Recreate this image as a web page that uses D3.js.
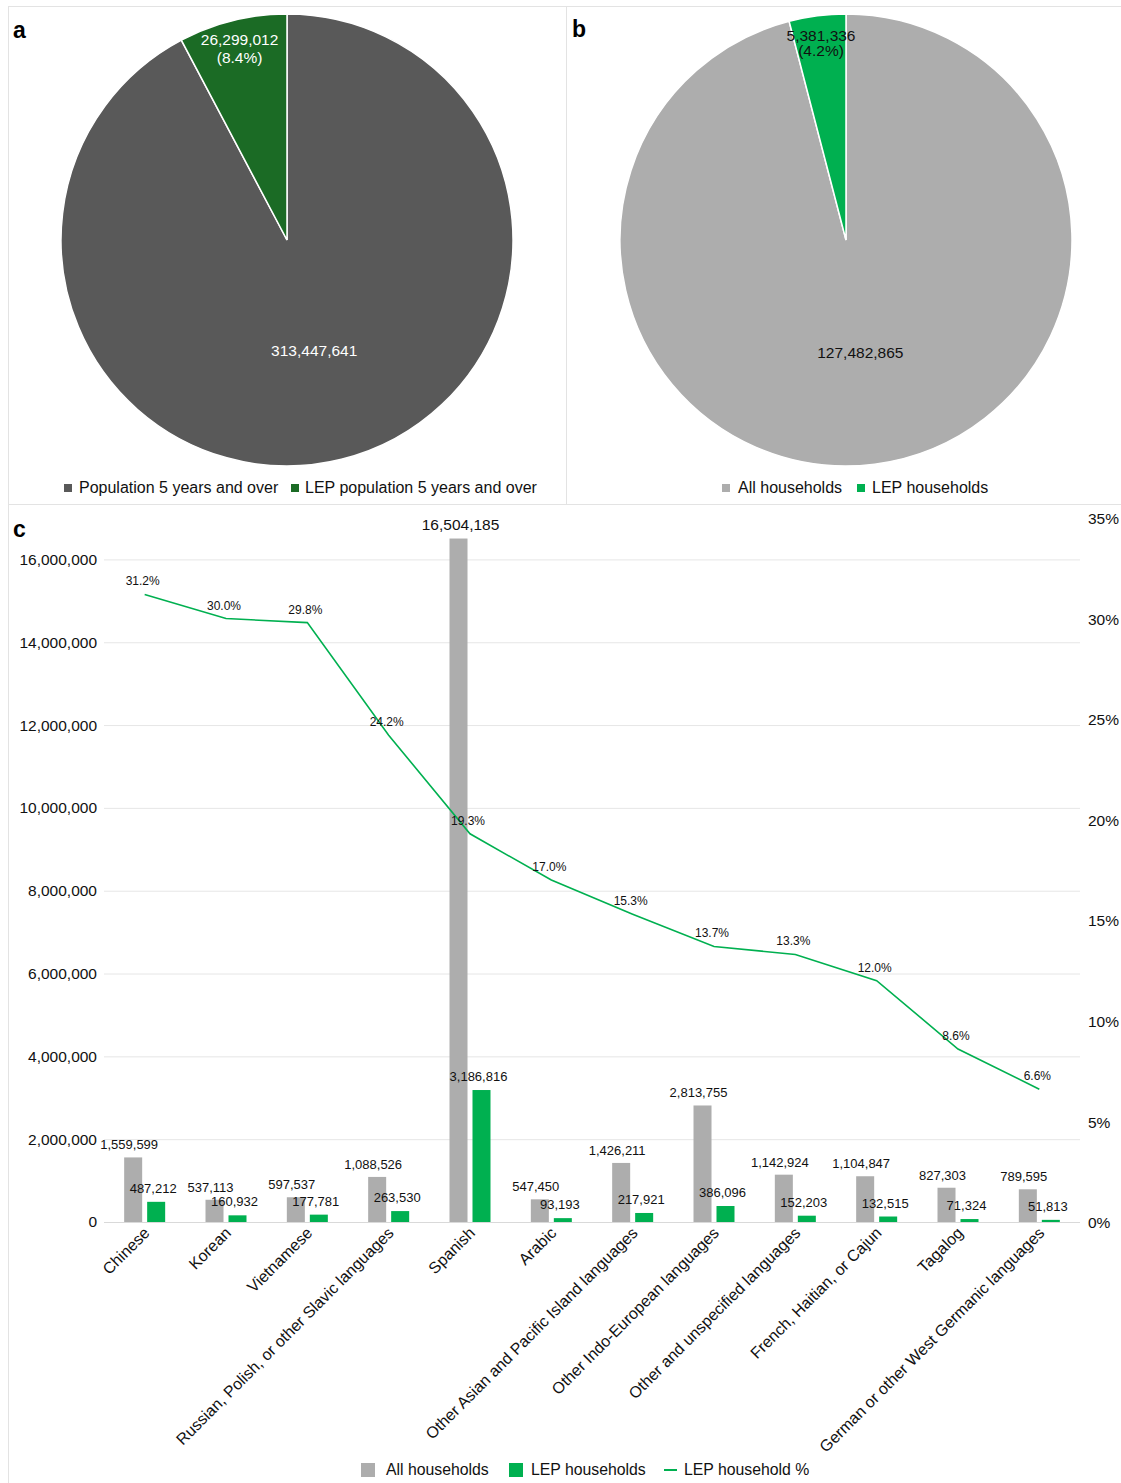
<!DOCTYPE html>
<html><head><meta charset="utf-8">
<script src="https://cdn.jsdelivr.net/npm/d3@7"></script>
<style>
body{margin:0;background:#fff;}
svg{display:block;font-family:"Liberation Sans",Arial,Helvetica,sans-serif;}
</style></head><body>
<svg id="chart" width="1121" height="1483"></svg>
<script>
// ---------- DATA ----------
const pieALabels = ["Population 5 years and over", "LEP population 5 years and over"];
const pieAValues = [313447641, 26299012];
const pieAPct = ["", "(8.4%)"];
const pieBLabels = ["All households", "LEP households"];
const pieBValues = [127482865, 5381336];
const pieBPct = ["", "(4.2%)"];

const categories = ["Chinese","Korean","Vietnamese","Russian, Polish, or other Slavic languages","Spanish","Arabic","Other Asian and Pacific Island languages","Other Indo-European languages","Other and unspecified languages","French, Haitian, or Cajun","Tagalog","German or other West Germanic languages"];
const allHouseholds = [1559599,537113,597537,1088526,16504185,547450,1426211,2813755,1142924,1104847,827303,789595];
const lepHouseholds = [487212,160932,177781,263530,3186816,93193,217921,386096,152203,132515,71324,51813];
const lepPct = [31.2,30.0,29.8,24.2,19.3,17.0,15.3,13.7,13.3,12.0,8.6,6.6];
const leftTicks = [0,2000000,4000000,6000000,8000000,10000000,12000000,14000000,16000000];
const rightTicks = [0,5,10,15,20,25,30,35];
const seriesNames = ["All households","LEP households","LEP household %"];

// ---------- STYLE ----------
const cDarkGray = "#595959", cDarkGreen = "#1b6b25", cGray = "#adadad", cGreen = "#00b050";
const svg = d3.select("#chart");
const fmt = d3.format(",");

// panel borders
const border = "#e3e3e3";
svg.append("rect").attr("x",8.5).attr("y",6.5).attr("width",558).attr("height",498).attr("fill","none").attr("stroke",border);
svg.append("rect").attr("x",566.5).attr("y",6.5).attr("width",560).attr("height",498).attr("fill","none").attr("stroke",border);
svg.append("rect").attr("x",8.5).attr("y",504.5).attr("width",1118).attr("height",985).attr("fill","none").attr("stroke",border);

// panel letters
[["a",13,38],["b",572,37],["c",13,537]].forEach(([t,x,y])=>{
  svg.append("text").attr("x",x).attr("y",y).attr("font-size",23).attr("font-weight","bold").text(t);
});

// ---------- PIES ----------
function drawPie(cx, cy, values, pcts, colors, labelColor) {
  const R = 226;
  const pie = d3.pie().sort(null).value(d=>d);
  const arcs = pie(values);
  const arc = d3.arc().innerRadius(0).outerRadius(R);
  const labelArc = d3.arc().innerRadius(197).outerRadius(197);
  const g = svg.append("g").attr("transform",`translate(${cx},${cy})`);
  g.selectAll("path").data(arcs).join("path")
    .attr("d",arc).attr("fill",(d,i)=>colors[i]).attr("stroke","#fff").attr("stroke-width",1.5);
  arcs.forEach((d,i)=>{
    const small = i===1;
    const [lx,ly] = small ? labelArc.centroid(d) : arc.centroid(d);
    const t = g.append("text").attr("text-anchor","middle").attr("font-size",15.5).attr("fill",labelColor);
    if (small) {
      t.append("tspan").attr("x",lx).attr("y",ly-4).text(fmt(values[i]));
      t.append("tspan").attr("x",lx).attr("y",ly+(labelColor==="#fff"?14:11)).text(pcts[i]);
    } else {
      t.attr("x",lx).attr("y",ly+6).text(fmt(values[i]));
    }
  });
}
drawPie(287, 240, pieAValues, pieAPct, [cDarkGray, cDarkGreen], "#fff");
drawPie(846, 240, pieBValues, pieBPct, [cGray, cGreen], "#111");

function legend(items, y, fs) {
  items.forEach(it=>{
    if (it.type==="line") {
      svg.append("line").attr("x1",it.x).attr("x2",it.x+13).attr("y1",y-5).attr("y2",y-5).attr("stroke",it.color).attr("stroke-width",2);
    } else {
      svg.append("rect").attr("x",it.x).attr("y",y-5-it.s/2).attr("width",it.s).attr("height",it.s).attr("fill",it.color);
    }
    svg.append("text").attr("x",it.tx).attr("y",y).attr("font-size",fs).attr("fill","#111").text(it.label);
  });
}
legend([{x:64,s:8,color:cDarkGray,tx:79,label:pieALabels[0]},{x:291,s:8,color:cDarkGreen,tx:305,label:pieALabels[1]}],493,16);
legend([{x:722,s:8,color:cGray,tx:738,label:pieBLabels[0]},{x:857,s:8,color:cGreen,tx:872,label:pieBLabels[1]}],493,16);

// ---------- BAR + LINE CHART ----------
const plotL = 104, plotR = 1080, plotB = 1222, plotT = 518;
const x0 = d3.scaleBand().domain(categories).range([plotL, plotR]).padding(0);
const bw = x0.bandwidth();
const x1 = d3.scaleBand().domain(["all","lep"]).range([bw/2-20.5, bw/2+20.5]).paddingInner(0.217);
const yL = d3.scaleLinear().domain([0,17000000]).range([plotB, plotT]);
const yR = d3.scaleLinear().domain([0,35]).range([plotB, plotT]);

// gridlines
svg.append("g").selectAll("line").data(leftTicks).join("line")
  .attr("x1",plotL).attr("x2",plotR).attr("y1",d=>yL(d)+0.5).attr("y2",d=>yL(d)+0.5)
  .attr("stroke",(d)=>d===0?"#d9d9d9":"#e6e6e6").attr("stroke-width",1);

// left axis
const axL = d3.axisLeft(yL).tickValues(leftTicks).tickFormat(fmt).tickSize(0).tickPadding(7);
const gL = svg.append("g").attr("transform",`translate(${plotL},0)`).call(axL);
gL.select(".domain").remove();
gL.selectAll("text").attr("font-size",15.5).attr("fill","#111").attr("font-family","Liberation Sans, Arial, sans-serif");

// right axis
const axR = d3.axisRight(yR).tickValues(rightTicks).tickFormat(d=>d+"%").tickSize(0).tickPadding(8);
const gR = svg.append("g").attr("transform",`translate(${plotR},0)`).call(axR);
gR.select(".domain").remove();
gR.selectAll("text").attr("font-size",15.5).attr("fill","#111").attr("dy","0.36em").attr("font-family","Liberation Sans, Arial, sans-serif");

// bars
const groups = svg.append("g").selectAll("g").data(categories).join("g")
  .attr("transform",d=>`translate(${x0(d)},0)`);
groups.append("rect").attr("x",x1("all")).attr("width",x1.bandwidth())
  .attr("y",(d,i)=>yL(allHouseholds[i])).attr("height",(d,i)=>plotB-yL(allHouseholds[i])).attr("fill",cGray);
groups.append("rect").attr("x",x1("lep")).attr("width",x1.bandwidth())
  .attr("y",(d,i)=>yL(lepHouseholds[i])).attr("height",(d,i)=>plotB-yL(lepHouseholds[i])).attr("fill",cGreen);
// bar labels
groups.append("text").attr("text-anchor","middle")
  .attr("x",(d,i)=>x1("all")+x1.bandwidth()/2-(i===4?-2:4))
  .attr("y",(d,i)=>yL(allHouseholds[i])-(i===4?9:8))
  .attr("font-size",(d,i)=>i===4?15.5:13).attr("fill","#111")
  .text((d,i)=>fmt(allHouseholds[i]));
groups.append("text").attr("text-anchor","middle")
  .attr("x",x1("lep")+x1.bandwidth()/2-3)
  .attr("y",(d,i)=>yL(lepHouseholds[i])-9)
  .attr("font-size",13).attr("fill","#111")
  .text((d,i)=>fmt(lepHouseholds[i]));

// line
const line = d3.line().x((d,i)=>x0(categories[i])+bw/2).y(d=>yR(d));
svg.append("path").datum(lepPct).attr("d",line).attr("fill","none").attr("stroke",cGreen).attr("stroke-width",1.6);
svg.append("g").selectAll("text").data(lepPct).join("text")
  .attr("text-anchor","middle").attr("x",(d,i)=>x0(categories[i])+bw/2-2).attr("y",d=>yR(d)-9)
  .attr("font-size",12).attr("fill","#111").text(d=>d.toFixed(1)+"%");

// x labels
svg.append("g").selectAll("text").data(categories).join("text")
  .attr("text-anchor","end").attr("font-size",16).attr("fill","#111")
  .attr("transform",d=>`translate(${x0(d)+bw/2+6},${plotB+12}) rotate(-45)`)
  .text(d=>d);

// bottom legend
legend([
  {x:361,s:14,color:cGray,tx:386,label:seriesNames[0]},
  {x:509,s:14,color:cGreen,tx:531,label:seriesNames[1]},
  {x:664,type:"line",color:cGreen,tx:684,label:seriesNames[2]}
],1475,15.8);
</script>
</body></html>
